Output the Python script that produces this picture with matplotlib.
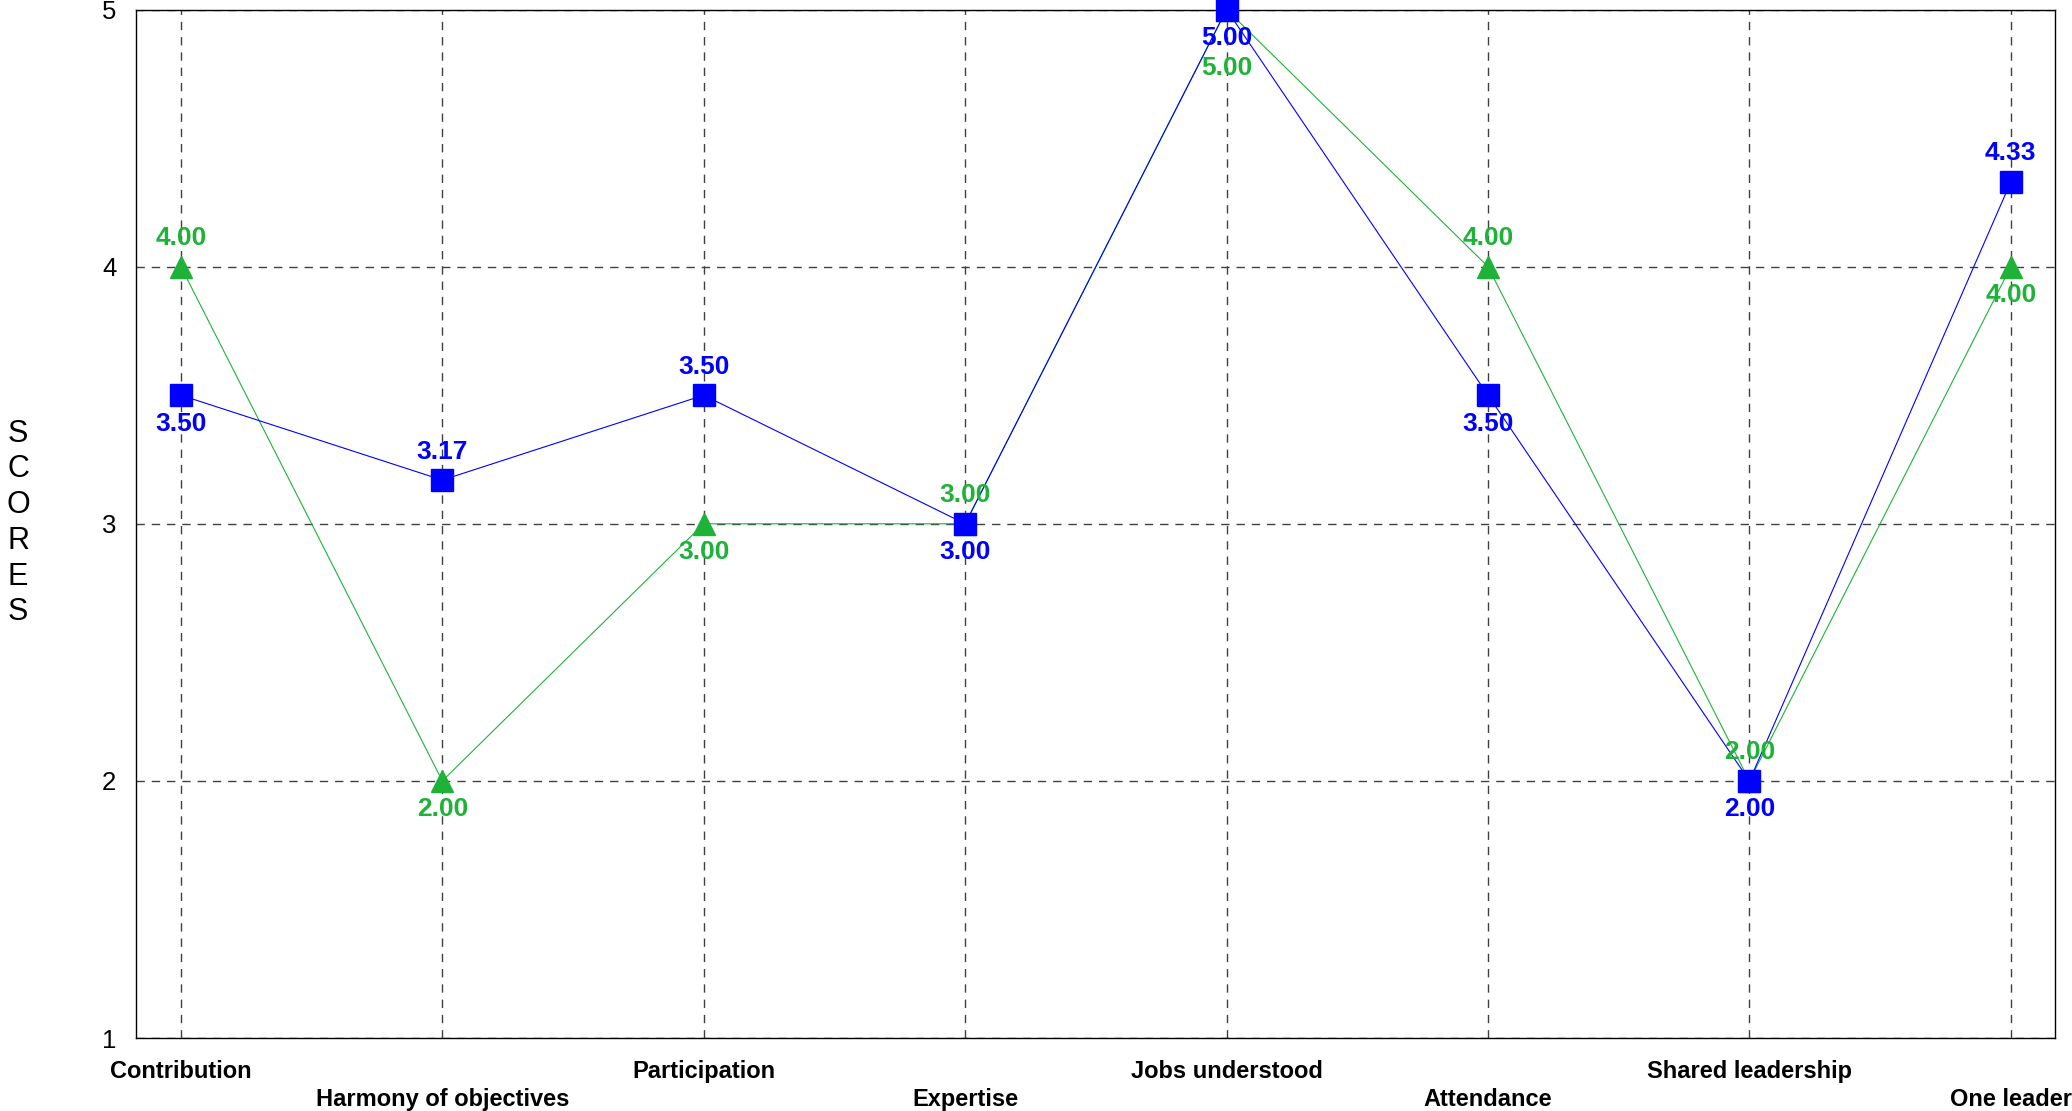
import matplotlib.pyplot as plt

categories = ["Contribution", "Harmony of objectives", "Participation", "Expertise",
              "Jobs understood", "Attendance", "Shared leadership", "One leader"]
blue_scores = [3.50, 3.17, 3.50, 3.00, 5.00, 3.50, 2.00, 4.33]
green_scores = [4.00, 2.00, 3.00, 3.00, 5.00, 4.00, 2.00, 4.00]
y_ticks = [1, 2, 3, 4, 5]

BLUE = '#0000ff'
GREEN = '#1fb239'

plt.rcParams['font.family'] = ['Liberation Sans', 'DejaVu Sans']

fig = plt.figure(figsize=(20.72, 11.11), dpi=100)
ax = fig.add_axes([0.0656, 0.0657, 0.9262, 0.9257])

x = list(range(len(categories)))
ax.plot(x, green_scores, '-', color=GREEN, lw=0.8, marker='^', ms=16.5,
        mec=GREEN, mfc=GREEN, clip_on=False, zorder=3)
ax.plot(x, blue_scores, '-', color=BLUE, lw=0.8, marker='s', ms=16.5,
        mec=BLUE, mfc=BLUE, clip_on=False, zorder=4)

ymax = max(y_ticks)
off = 20.5
for i in x:
    b, g = blue_scores[i], green_scores[i]
    if b == g and b == ymax:
        pos = {'b': -off, 'g': -2 * off - 1}
    elif b > g:
        pos = {'b': off, 'g': -off}
    else:
        pos = {'b': -off, 'g': off}
    for key, val, col in (('g', g, GREEN), ('b', b, BLUE)):
        ax.annotate(f'{val:.2f}', (i, val), xytext=(0, pos[key]),
                    textcoords='offset points', ha='center', va='center',
                    fontsize=19, fontweight='bold', color=col, zorder=5)

ax.set_xlim(-0.172, 7.169)
ax.set_ylim(1, 5)
ax.set_yticks(y_ticks)
ax.set_yticklabels([str(v) for v in y_ticks], fontsize=18.5)
ax.set_xticks(x)
ax.set_xticklabels([c if i % 2 == 0 else '\n' + c for i, c in enumerate(categories)],
                   fontsize=17, fontweight='bold', linespacing=1.25)
ax.tick_params(axis='both', length=0)
ax.tick_params(axis='y', pad=14)
ax.tick_params(axis='x', pad=16)

ax.grid(True, color='#404040', lw=1.0, linestyle=(0, (6, 5)), zorder=1)
ax.set_axisbelow(True)
for s in ax.spines.values():
    s.set_linewidth(1.0)
    s.set_color('black')

fig.text(18 / 2072, 1 - 523 / 1111, 'S\nC\nO\nR\nE\nS', fontsize=22,
         ha='center', va='center', linespacing=1.25)

fig.savefig('out.png', dpi=100)
